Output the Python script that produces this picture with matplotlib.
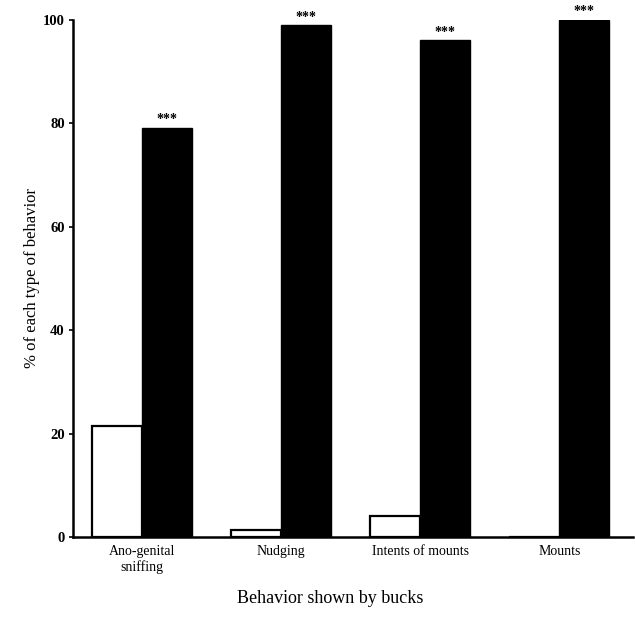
import matplotlib.pyplot as plt
import numpy as np

plt.rcParams["font.family"] = ["Liberation Serif", "DejaVu Serif"]

categories = ["Ano-genital\nsniffing", "Nudging", "Intents of mounts", "Mounts"]
control = [21.5, 1.4, 4.1, 0.0]
treated = [79.2, 99.0, 96.1, 100.0]
stars = ["***", "***", "***", "***"]
yticks = [0, 20, 40, 60, 80, 100]

x = np.arange(len(categories))
w = 0.36

fig = plt.figure(figsize=(6.35, 6.25), dpi=100)
ax = fig.add_axes([0.115, 0.1408, 0.882, 0.8272])

ax.bar(x - w / 2, control, w, color="white", edgecolor="black", linewidth=1.6)
ax.bar(x + w / 2, treated, w, color="black", edgecolor="black", linewidth=1.0)

for xi, v, s in zip(x, treated, stars):
    ax.text(xi + w / 2, v + 0.3, s, ha="center", va="bottom",
            fontsize=10, fontweight="bold")

ax.set_xlim(-0.496, 3.53)
ax.set_ylim(0, 100)
ax.set_yticks(yticks)
ax.set_yticklabels([str(t) for t in yticks], fontweight="bold", fontsize=10.5)
ax.set_xticks(x)
ax.set_xticklabels(categories, fontsize=10)
ax.tick_params(axis="x", length=0, pad=6)
ax.tick_params(axis="y", length=3, width=1.2, pad=3)

for side in ["top", "right"]:
    ax.spines[side].set_visible(False)
for side in ["left", "bottom"]:
    ax.spines[side].set_linewidth(1.8)

ax.set_ylabel("% of each type of behavior", fontsize=12, labelpad=2)
fig.text(0.52, 0.042, "Behavior shown by bucks", ha="center", va="center",
         fontsize=13)

plt.savefig("out.png", dpi=100)
